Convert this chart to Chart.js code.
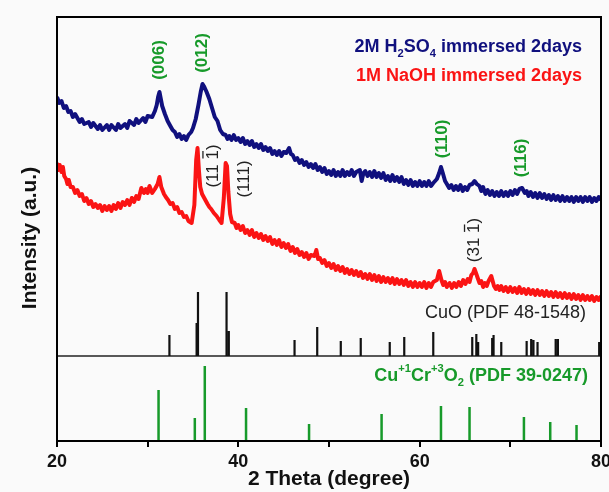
<!DOCTYPE html>
<html>
<head>
<meta charset="utf-8">
<script src="https://cdn.jsdelivr.net/npm/chart.js@4.4.0/dist/chart.umd.min.js"></script>
<style>
    html, body { margin: 0; padding: 0; background: #fafafa; }
    #wrap { width: 609px; height: 492px; }
</style>
</head>
<body>
<div id="wrap"><canvas id="xrdChart" width="609" height="492"></canvas></div>
<script>
// 2M H2SO4 scan: [2theta, intensity]
const h2so4Scan = [
    [20.0, 353], [20.25, 347], [20.5, 349], [20.75, 342], [21.0, 344], [21.25, 338], [21.5, 339], [21.75, 333],
    [22.0, 336], [22.5, 328], [22.75, 331], [23.0, 326], [23.5, 328], [23.75, 323], [24.0, 327], [24.5, 321],
    [24.75, 325], [25.0, 320], [25.5, 325], [25.75, 320], [26.0, 325], [26.5, 320], [26.75, 326], [27.0, 322],
    [27.5, 326], [27.75, 322], [28.0, 329], [28.5, 325], [28.75, 331], [29.0, 327], [29.5, 332], [29.75, 328],
    [30.0, 334], [30.5, 333], [30.8, 339], [31.0, 345], [31.15, 353], [31.3, 358], [31.45, 351], [31.6, 344],
    [31.9, 336], [32.2, 329], [32.5, 324], [32.75, 320], [33.0, 318], [33.25, 313], [33.5, 316], [33.75, 311],
    [34.0, 314], [34.25, 310], [34.5, 315], [34.8, 318], [35.0, 322], [35.3, 331], [35.6, 345], [35.85, 358],
    [36.05, 366], [36.25, 363], [36.5, 358], [36.8, 351], [37.1, 342], [37.4, 333], [37.7, 329], [38.0, 320],
    [38.3, 316], [38.6, 315], [38.8, 311], [39.0, 314], [39.25, 310], [39.5, 315], [39.75, 310], [40.0, 312],
    [40.25, 308], [40.5, 312], [40.75, 306], [41.0, 309], [41.25, 305], [41.5, 309], [41.75, 303], [42.0, 306],
    [42.25, 302], [42.5, 306], [42.75, 300], [43.0, 303], [43.25, 299], [43.5, 302], [43.75, 296], [44.0, 299],
    [44.25, 295], [44.5, 299], [44.75, 294], [45.0, 298], [45.3, 297], [45.6, 302], [45.8, 296], [46.0, 295],
    [46.25, 290], [46.5, 292], [46.75, 287], [47.0, 290], [47.25, 285], [47.5, 288], [47.75, 283], [48.0, 286],
    [48.25, 282], [48.5, 286], [48.75, 280], [49.0, 283], [49.25, 278], [49.5, 282], [49.75, 276], [50.0, 279],
    [50.25, 275], [50.5, 280], [50.75, 274], [51.0, 278], [51.25, 274], [51.5, 280], [51.75, 274], [52.0, 278],
    [52.25, 275], [52.5, 280], [52.75, 274], [53.0, 278], [53.4, 280], [53.6, 269], [53.8, 277], [54.0, 279],
    [54.25, 274], [54.5, 278], [54.75, 273], [55.0, 279], [55.25, 273], [55.5, 277], [55.75, 272], [56.0, 277],
    [56.25, 270], [56.5, 274], [56.75, 269], [57.0, 275], [57.25, 269], [57.5, 273], [57.75, 268], [58.0, 273],
    [58.25, 266], [58.5, 270], [58.75, 265], [59.0, 270], [59.25, 264], [59.5, 268], [59.75, 264], [60.0, 269],
    [60.25, 264], [60.5, 268], [60.75, 264], [61.0, 269], [61.25, 264], [61.5, 267], [61.9, 271], [62.15, 277],
    [62.35, 283], [62.55, 277], [62.8, 269], [63.0, 266], [63.25, 262], [63.5, 265], [63.75, 260], [64.0, 264],
    [64.25, 260], [64.5, 265], [64.75, 259], [65.0, 263], [65.25, 260], [65.5, 265], [65.8, 266], [66.05, 269],
    [66.3, 266], [66.6, 264], [66.8, 259], [67.0, 263], [67.25, 256], [67.5, 260], [67.75, 255], [68.0, 259],
    [68.25, 254], [68.5, 258], [68.75, 254], [69.0, 259], [69.25, 254], [69.5, 258], [69.75, 254], [70.0, 259],
    [70.25, 255], [70.5, 260], [70.75, 256], [71.0, 261], [71.3, 262], [71.6, 257], [71.8, 259], [72.0, 254],
    [72.25, 258], [72.5, 253], [72.75, 257], [73.0, 252], [73.25, 257], [73.5, 252], [73.75, 256], [74.0, 251],
    [74.25, 255], [74.5, 250], [74.75, 255], [75.0, 250], [75.25, 254], [75.5, 249], [75.75, 254], [76.0, 249],
    [76.25, 253], [76.5, 249], [76.75, 253], [77.0, 248], [77.25, 253], [77.5, 249], [77.75, 253], [78.0, 248],
    [78.25, 253], [78.5, 249], [78.75, 253], [79.0, 248], [79.25, 252], [79.5, 249], [79.75, 253], [80.0, 250]
];

// 1M NaOH scan: [2theta, intensity]
const naohScan = [
    [20.0, 287], [20.15, 280], [20.3, 285], [20.5, 278], [20.65, 283], [20.8, 274], [21.0, 271], [21.15, 266],
    [21.3, 270], [21.5, 263], [21.75, 263], [22.0, 257], [22.25, 260], [22.5, 254], [22.75, 256], [23.0, 249],
    [23.25, 252], [23.5, 246], [23.75, 249], [24.0, 243], [24.25, 246], [24.5, 242], [24.75, 245], [25.0, 239],
    [25.25, 244], [25.5, 240], [25.75, 244], [26.0, 239], [26.25, 245], [26.5, 241], [26.75, 247], [27.0, 242],
    [27.25, 248], [27.5, 245], [27.75, 250], [28.0, 245], [28.25, 252], [28.5, 248], [28.75, 254], [29.0, 251],
    [29.3, 262], [29.6, 257], [29.8, 261], [30.0, 257], [30.2, 264], [30.5, 257], [30.8, 261], [31.1, 266],
    [31.3, 273], [31.5, 263], [31.8, 256], [32.0, 253], [32.25, 250], [32.5, 246], [32.75, 247], [33.0, 241],
    [33.25, 243], [33.5, 237], [33.75, 238], [34.0, 233], [34.25, 234], [34.5, 229], [34.85, 227], [35.15, 245],
    [35.35, 290], [35.5, 302], [35.65, 280], [35.8, 263], [36.0, 256], [36.3, 251], [36.6, 246], [36.8, 243],
    [37.0, 241], [37.3, 237], [37.6, 234], [37.9, 230], [38.15, 227], [38.4, 252], [38.6, 287], [38.75, 284],
    [38.9, 258], [39.1, 236], [39.3, 228], [39.6, 227], [39.8, 222], [40.0, 225], [40.25, 220], [40.5, 224],
    [40.75, 217], [41.0, 220], [41.25, 215], [41.5, 220], [41.75, 213], [42.0, 217], [42.25, 212], [42.5, 216],
    [42.75, 210], [43.0, 214], [43.25, 209], [43.5, 213], [43.75, 206], [44.0, 210], [44.25, 205], [44.5, 210],
    [44.75, 203], [45.0, 207], [45.25, 202], [45.5, 206], [45.75, 199], [46.0, 203], [46.25, 197], [46.5, 201],
    [46.75, 195], [47.0, 198], [47.25, 193], [47.5, 197], [47.75, 191], [48.0, 195], [48.4, 194], [48.6, 200],
    [48.8, 191], [49.0, 192], [49.25, 187], [49.5, 190], [49.75, 184], [50.0, 187], [50.25, 182], [50.5, 186],
    [50.75, 180], [51.0, 184], [51.25, 179], [51.5, 183], [51.75, 177], [52.0, 181], [52.25, 176], [52.5, 180],
    [52.75, 175], [53.0, 179], [53.25, 174], [53.5, 178], [53.75, 172], [54.0, 176], [54.25, 171], [54.5, 176],
    [54.75, 170], [55.0, 175], [55.25, 169], [55.5, 174], [55.75, 168], [56.0, 173], [56.25, 168], [56.5, 172],
    [56.75, 167], [57.0, 172], [57.25, 166], [57.5, 171], [57.75, 166], [58.0, 170], [58.25, 165], [58.5, 170],
    [58.75, 164], [59.0, 168], [59.25, 163], [59.5, 168], [59.75, 163], [60.0, 167], [60.25, 163], [60.5, 168],
    [60.75, 162], [61.0, 167], [61.25, 163], [61.5, 168], [61.9, 170], [62.15, 179], [62.4, 170], [62.6, 165],
    [62.8, 168], [63.0, 163], [63.3, 167], [63.55, 162], [63.8, 167], [64.05, 163], [64.3, 168], [64.55, 164],
    [64.8, 170], [65.05, 166], [65.3, 171], [65.5, 168], [65.7, 175], [65.9, 177], [66.05, 181], [66.25, 176],
    [66.4, 172], [66.6, 167], [66.8, 169], [67.0, 163], [67.2, 167], [67.4, 164], [67.6, 169], [67.9, 174],
    [68.2, 164], [68.4, 161], [68.6, 164], [68.8, 160], [69.0, 164], [69.25, 159], [69.5, 163], [69.75, 158],
    [70.0, 163], [70.25, 158], [70.5, 162], [70.75, 157], [71.0, 163], [71.25, 157], [71.5, 161], [71.75, 156],
    [72.0, 161], [72.25, 156], [72.5, 160], [72.75, 155], [73.0, 160], [73.25, 155], [73.5, 159], [73.75, 154],
    [74.0, 159], [74.25, 154], [74.5, 158], [74.75, 153], [75.0, 158], [75.25, 153], [75.5, 157], [75.75, 152],
    [76.0, 157], [76.25, 152], [76.5, 156], [76.75, 151], [77.0, 156], [77.25, 151], [77.5, 155], [77.75, 150],
    [78.0, 155], [78.25, 150], [78.5, 154], [78.75, 150], [79.0, 154], [79.25, 149], [79.5, 153], [79.75, 150],
    [80.0, 154]
];

// reference patterns
const cuoTheta = [32.4, 35.4, 35.55, 38.7, 38.95, 46.2, 48.7, 51.3, 53.5, 56.7, 58.3, 61.5, 65.8, 66.25, 66.45,
    68.0, 68.15, 69.0, 71.8, 72.3, 72.55, 73.0, 75.0, 75.25, 79.8];
const cuoIntensity = [21, 33, 64, 64, 25, 16, 29, 15, 18, 14, 19, 24, 19, 22, 14,
    18, 21, 14, 15, 17, 16, 14, 17, 17, 14];
const cucroTheta = [31.2, 35.2, 36.3, 40.85, 47.8, 55.8, 62.35, 65.5, 71.5, 74.4, 77.3];
const cucroIntensity = [51, 23, 75, 33, 17, 27, 35, 34, 24, 19, 16];

const cuoBase = 94;     // divider between the two reference panels
const cucroBase = 9;    // bottom of the plot
const yTop = 433;

const xTicks = [20, 30, 40, 50, 60, 70, 80];

// peak labels: [text, 2theta, level, color, bold]
const peakLabels = [
    ['(006)', 31.3, 390, '#179a2a', true],
    ['(012)', 36.0, 397, '#179a2a', true],
    ['(110)', 62.45, 311, '#179a2a', true],
    ['(116)', 71.2, 292, '#179a2a', true],
    ['(11 1)', 37.2, 284, '#222', false],
    ['(111)', 40.7, 271, '#222', false],
    ['(31 1)', 66.05, 210, '#222', false]
];

const NAVY = '#10107e';
const RED = '#fa1414';
const GREEN = '#179a2a';
const FONT = '"Liberation Sans", Arial, sans-serif';

function sticks(theta, heights, base) {
    const pts = [];
    theta.forEach((t, i) => {
        pts.push({x: t, y: base});
        pts.push({x: t, y: base + heights[i]});
        pts.push({x: t, y: null});
    });
    return pts;
}

function drawRich(ctx, parts, xRight, y, size, color) {
    let total = 0;
    const items = parts.map(p => {
        const it = typeof p === 'string' ? {t: p} : {t: p[0], kind: p[1]};
        const s = it.kind ? size * 0.62 : size;
        it.font = 'bold ' + s + 'px ' + FONT;
        ctx.font = it.font;
        it.w = ctx.measureText(it.t).width;
        total += it.w;
        return it;
    });
    let x = xRight - total;
    ctx.fillStyle = color;
    ctx.textAlign = 'left';
    ctx.textBaseline = 'middle';
    items.forEach(it => {
        let dy = 0;
        if (it.kind === 'sub') dy = size * 0.38;
        if (it.kind === 'sup') dy = -size * 0.4;
        ctx.font = it.font;
        ctx.fillText(it.t, x, y + dy);
        x += it.w;
    });
}

const decorations = {
    id: 'decorations',
    afterDatasetsDraw(chart) {
        const ctx = chart.ctx;
        const area = chart.chartArea;
        const xs = chart.scales.x;
        const ys = chart.scales.y;
        ctx.save();

        // frame
        ctx.strokeStyle = '#000';
        ctx.lineWidth = 2;
        ctx.strokeRect(area.left, area.top, area.right - area.left, area.bottom - area.top);

        // y axis title
        ctx.save();
        ctx.translate(30, 238);
        ctx.rotate(-Math.PI / 2);
        ctx.font = 'bold 21px ' + FONT;
        ctx.fillStyle = '#111';
        ctx.textAlign = 'center';
        ctx.textBaseline = 'middle';
        ctx.fillText('Intensity (a.u.)', 0, 0);
        ctx.restore();

        // sample names
        drawRich(ctx, ['2M H', ['2', 'sub'], 'SO', ['4', 'sub'], ' immersed 2days'], area.right - 19, area.top + 30, 18, NAVY);
        drawRich(ctx, ['1M NaOH immersed 2days'], area.right - 19, area.top + 59, 18, RED);

        // reference pattern names
        const divY = ys.getPixelForValue(cuoBase);
        ctx.font = '18px ' + FONT;
        ctx.fillStyle = '#222';
        ctx.textAlign = 'right';
        ctx.textBaseline = 'middle';
        ctx.fillText('CuO (PDF 48-1548)', area.right - 15, divY - 43);
        drawRich(ctx, ['Cu', ['+1', 'sup'], 'Cr', ['+3', 'sup'], 'O', ['2', 'sub'], ' (PDF 39-0247)'], area.right - 13, divY + 20, 18, GREEN);

        // peak indices, rotated
        peakLabels.forEach(([text, t, level, color, bold]) => {
            ctx.save();
            ctx.translate(xs.getPixelForValue(t), ys.getPixelForValue(level));
            ctx.rotate(-Math.PI / 2);
            ctx.font = (bold ? 'bold ' : '') + '17px ' + FONT;
            ctx.fillStyle = color;
            ctx.textAlign = 'center';
            ctx.textBaseline = 'middle';
            ctx.fillText(text, 0, 0);
            if (text.indexOf(' ') > 0) {
                // bar over the last index
                const w = ctx.measureText(text).width;
                const before = ctx.measureText(text.slice(0, text.length - 2)).width;
                const one = ctx.measureText('1').width;
                const x0 = -w / 2 + before;
                ctx.strokeStyle = color;
                ctx.lineWidth = 1.3;
                ctx.beginPath();
                ctx.moveTo(x0 + 1, -10);
                ctx.lineTo(x0 + one - 1, -10);
                ctx.stroke();
            }
            ctx.restore();
        });

        ctx.restore();
    }
};

const ctx = document.getElementById('xrdChart').getContext('2d');

new Chart(ctx, {
    type: 'line',
    data: {
        datasets: [
            {
                data: sticks(cuoTheta, cuoIntensity, cuoBase),
                borderColor: '#111',
                borderWidth: 2.2,
                spanGaps: false
            },
            {
                data: [{x: 20, y: cuoBase}, {x: 80, y: cuoBase}],
                borderColor: '#222',
                borderWidth: 1.5
            },
            {
                data: sticks(cucroTheta, cucroIntensity, cucroBase),
                borderColor: GREEN,
                borderWidth: 2.5,
                spanGaps: false
            },
            {
                data: naohScan.map(p => ({x: p[0], y: p[1]})),
                borderColor: RED,
                borderWidth: 4
            },
            {
                data: h2so4Scan.map(p => ({x: p[0], y: p[1]})),
                borderColor: NAVY,
                borderWidth: 4
            }
        ]
    },
    options: {
        responsive: false,
        animation: false,
        elements: {
            point: { radius: 0 },
            line: { tension: 0, borderJoinStyle: 'round' }
        },
        layout: {
            padding: { top: 17, right: 8, left: 0, bottom: 0 }
        },
        plugins: {
            legend: { display: false },
            tooltip: { enabled: false }
        },
        scales: {
            x: {
                type: 'linear',
                min: 20,
                max: 80,
                offset: false,
                afterBuildTicks: (scale) => {
                    scale.ticks = xTicks.map(v => ({value: v}));
                },
                afterFit: (scale) => {
                    scale.height = 51;
                    scale.paddingLeft = 0;
                    scale.paddingRight = 0;
                },
                ticks: {
                    autoSkip: false,
                    maxRotation: 0,
                    padding: 4,
                    color: '#111',
                    font: { family: FONT, size: 18, weight: 'bold' },
                    callback: (v) => (v % 20 === 0 ? v : '')
                },
                grid: {
                    drawOnChartArea: false,
                    drawTicks: true,
                    tickLength: 6,
                    color: '#000',
                    lineWidth: 2
                },
                border: { display: true, color: '#000', width: 2 },
                title: {
                    display: true,
                    text: '2 Theta (degree)',
                    color: '#111',
                    font: { family: FONT, size: 21, weight: 'bold' },
                    padding: { top: 0, bottom: 0 }
                }
            },
            y: {
                type: 'linear',
                min: cucroBase,
                max: yTop,
                afterFit: (scale) => {
                    scale.width = 57;
                },
                ticks: { display: false },
                grid: { display: false },
                border: { display: true, color: '#000', width: 2 },
                title: { display: false }
            }
        }
    },
    plugins: [decorations]
});
</script>
</body>
</html>
